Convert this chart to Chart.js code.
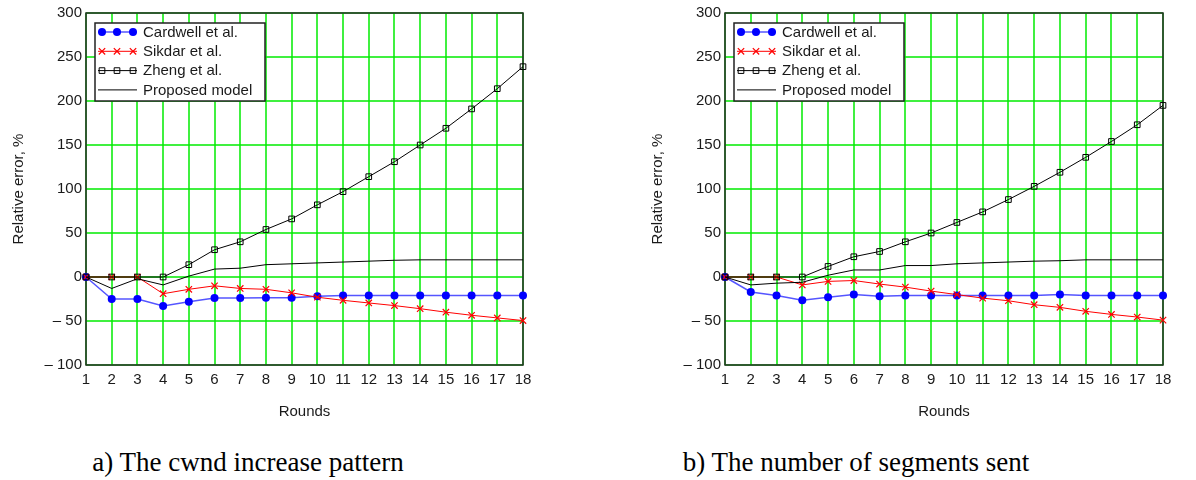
<!DOCTYPE html>
<html>
<head>
<meta charset="utf-8">
<title>Relative error per round</title>
<script src="https://cdn.jsdelivr.net/npm/chart.js@4.4.1/dist/chart.umd.min.js"></script>
<style>
  body { margin: 0; background: #fff; width: 1196px; height: 480px; position: relative; overflow: hidden; }
  canvas { position: absolute; top: 0; }
  .caption { position: absolute; top: 449px; font: 27px/27px "Liberation Serif", "Times New Roman", serif;
             color: #000; white-space: nowrap; transform: translateX(-50%); }
</style>
</head>
<body>
<canvas id="cwndChart" width="560" height="430" style="left:0"></canvas>
<canvas id="sentChart" width="557" height="430" style="left:639px"></canvas>
<div class="caption" style="left:248px">a) The cwnd increase pattern</div>
<div class="caption" style="left:856px">b) The number of segments sent</div>
<script>
//______________________________________________________
// data

const rounds = ['1','2','3','4','5','6','7','8','9','10','11','12','13','14','15','16','17','18'];
const yTicks    = [-100, -50, 0, 50, 100, 150, 200, 250, 300];
const yTickText = ['\u2013 100', '\u2013 50', '0', '50', '100', '150', '200', '250', '300'];
const seriesNames = ['Cardwell et al.', 'Sikdar et al.', 'Zheng et al.', 'Proposed model'];

// a) cwnd increase pattern
const cardwellCwnd = [0, -25, -25, -33, -28, -24, -24, -23.5, -23.5, -22, -21, -21, -21, -21, -21, -21, -21, -21];
const sikdarCwnd   = [0, 0, 0, -19, -14, -10, -13, -14, -18, -23, -26.5, -29.5, -32.5, -36, -40, -43.5, -46.5, -49.5];
const zhengCwnd    = [0, 0, 0, 0, 14, 31, 40, 54, 66, 82, 97, 114, 131, 150, 169, 191, 214, 239];
const proposedCwnd = [0, -13, -2, -9, 1, 9, 10, 14, 15, 16, 17, 18, 19, 19.5, 19.5, 19.5, 19.5, 19.5];

// b) number of segments sent
const cardwellSent = [0, -17, -21, -26.5, -23, -20, -22, -21, -21, -21, -21, -21, -21, -20, -21, -21, -21, -21];
const sikdarSent   = [0, 0, 0, -9, -5, -4, -8, -11.5, -16, -20, -24, -27, -31.5, -34.5, -39, -42.5, -45.5, -49];
const zhengSent    = [0, 0, 0, 0, 12, 23, 29, 40, 50, 62, 74, 88, 103, 119, 136, 154, 173, 195];
const proposedSent = [0, -9, -7, -6, 2, 8, 8, 13, 13, 15, 16, 17, 18, 18.5, 19.5, 19.5, 19.5, 19.5];

//______________________________________________________
// look

const SansFont  = '"Liberation Sans", Arial, Helvetica, sans-serif';
const GridColor = 'rgba(0,235,0,0.75)';
const TextColor = '#1a1a1a';

//______________________________________________________
function makeDatasets (cardwell, sikdar, zheng, proposed) {
    return [
        { label: seriesNames[0], data: cardwell, order: 4,
          borderColor: '#5555ff', borderWidth: 1.5,
          pointStyle: 'circle', pointRadius: 4, pointBorderWidth: 0,
          pointBackgroundColor: '#0000ff', pointBorderColor: '#0000ff' },
        { label: seriesNames[1], data: sikdar, order: 3,
          borderColor: '#ff0000', borderWidth: 1,
          pointStyle: 'crossRot', pointRadius: 4.5, pointBorderWidth: 1.2,
          pointBorderColor: '#ff0000', pointBackgroundColor: '#ff0000' },
        { label: seriesNames[2], data: zheng, order: 2,
          borderColor: '#000', borderWidth: 1,
          pointStyle: 'rect', pointRadius: 4, pointBorderWidth: 1,
          pointBorderColor: '#000', pointBackgroundColor: 'rgba(0,0,0,0)' },
        { label: seriesNames[3], data: proposed, order: 1,
          borderColor: '#000', borderWidth: 1, pointRadius: 0 }
    ];
}

//______________________________________________________
// dark frame around the plot area
const framePlugin = {
    id: 'frame',
    beforeDatasetsDraw (chart) {
        const a = chart.chartArea, ctx = chart.ctx;
        ctx.save();
        ctx.strokeStyle = '#2a2a2a';
        ctx.lineWidth = 1.5;
        ctx.strokeRect(a.left, a.top, a.right - a.left, a.bottom - a.top);
        ctx.restore();
    }
};

//______________________________________________________
// boxed legend in the upper left corner of the plot
const boxLegendPlugin = {
    id: 'boxLegend',
    afterDraw (chart) {
        const a = chart.chartArea, ctx = chart.ctx;
        const bx = a.left + 9, by = a.top + 10, bw = 170, bh = 78;
        ctx.save();
        ctx.fillStyle = '#fff';
        ctx.fillRect(bx, by, bw, bh);
        ctx.strokeStyle = '#222';
        ctx.lineWidth = 1.5;
        ctx.strokeRect(bx, by, bw, bh);
        ctx.font = '15px ' + SansFont;
        ctx.textBaseline = 'middle';
        chart.data.datasets.forEach(function (ds, i) {
            const y = by + 9 + i * 19.3;
            ctx.strokeStyle = ds.borderColor;
            ctx.lineWidth = ds.borderWidth;
            ctx.beginPath();
            ctx.moveTo(bx + 3, y);
            ctx.lineTo(bx + 42, y);
            ctx.stroke();
            if (ds.pointRadius > 0) {
                [bx + 7, bx + 22, bx + 38].forEach(function (px) {
                    ctx.fillStyle = ds.pointBackgroundColor;
                    ctx.strokeStyle = ds.pointBorderColor;
                    ctx.lineWidth = ds.pointBorderWidth;
                    Chart.helpers.drawPoint(ctx, {
                        pointStyle: ds.pointStyle, radius: ds.pointRadius,
                        rotation: 0, borderWidth: ds.pointBorderWidth
                    }, px, y);
                });
            }
            ctx.fillStyle = TextColor;
            ctx.fillText(ds.label, bx + 48, y + 0.5);
        });
        ctx.restore();
    }
};

//______________________________________________________
function makeChart (canvasId, datasets, rightPad) {
    return new Chart(document.getElementById(canvasId), {
        type: 'line',
        data: { labels: rounds, datasets: datasets },
        options: {
            responsive: false,
            animation: false,
            layout: { padding: { top: 11, right: rightPad, left: 0, bottom: 0 } },
            elements: { line: { tension: 0 } },
            plugins: { legend: { display: false }, tooltip: { enabled: false } },
            scales: {
                x: {
                    offset: false,
                    grid: { color: GridColor, lineWidth: 2, drawTicks: false },
                    border: { display: false },
                    ticks: { color: TextColor, padding: 6, maxRotation: 0, autoSkip: false,
                             font: { family: SansFont, size: 15 } },
                    title: { display: true, text: 'Rounds', color: TextColor,
                             padding: { top: 0, bottom: 9 },
                             font: { family: SansFont, size: 15 } },
                    afterFit: function (scale) { scale.height = 65; }
                },
                y: {
                    min: -100, max: 300,
                    grid: { color: GridColor, lineWidth: 2, drawTicks: false },
                    border: { display: false },
                    afterBuildTicks: function (scale) {
                        scale.ticks = yTicks.map(function (v) { return { value: v }; });
                    },
                    ticks: { color: TextColor, padding: 4,
                             font: { family: SansFont, size: 15 },
                             callback: function (v) {
                                 const i = yTicks.indexOf(v);
                                 return i >= 0 ? yTickText[i] : '';
                             } },
                    title: { display: true, text: 'Relative error, %', color: TextColor,
                             padding: { top: 9.5, bottom: 0 },
                             font: { family: SansFont, size: 15 } },
                    afterFit: function (scale) { scale.width = 86; }
                }
            }
        },
        plugins: [framePlugin, boxLegendPlugin]
    });
}

makeChart('cwndChart', makeDatasets(cardwellCwnd, sikdarCwnd, zhengCwnd, proposedCwnd), 37);
makeChart('sentChart', makeDatasets(cardwellSent, sikdarSent, zhengSent, proposedSent), 33);
</script>
</body>
</html>
